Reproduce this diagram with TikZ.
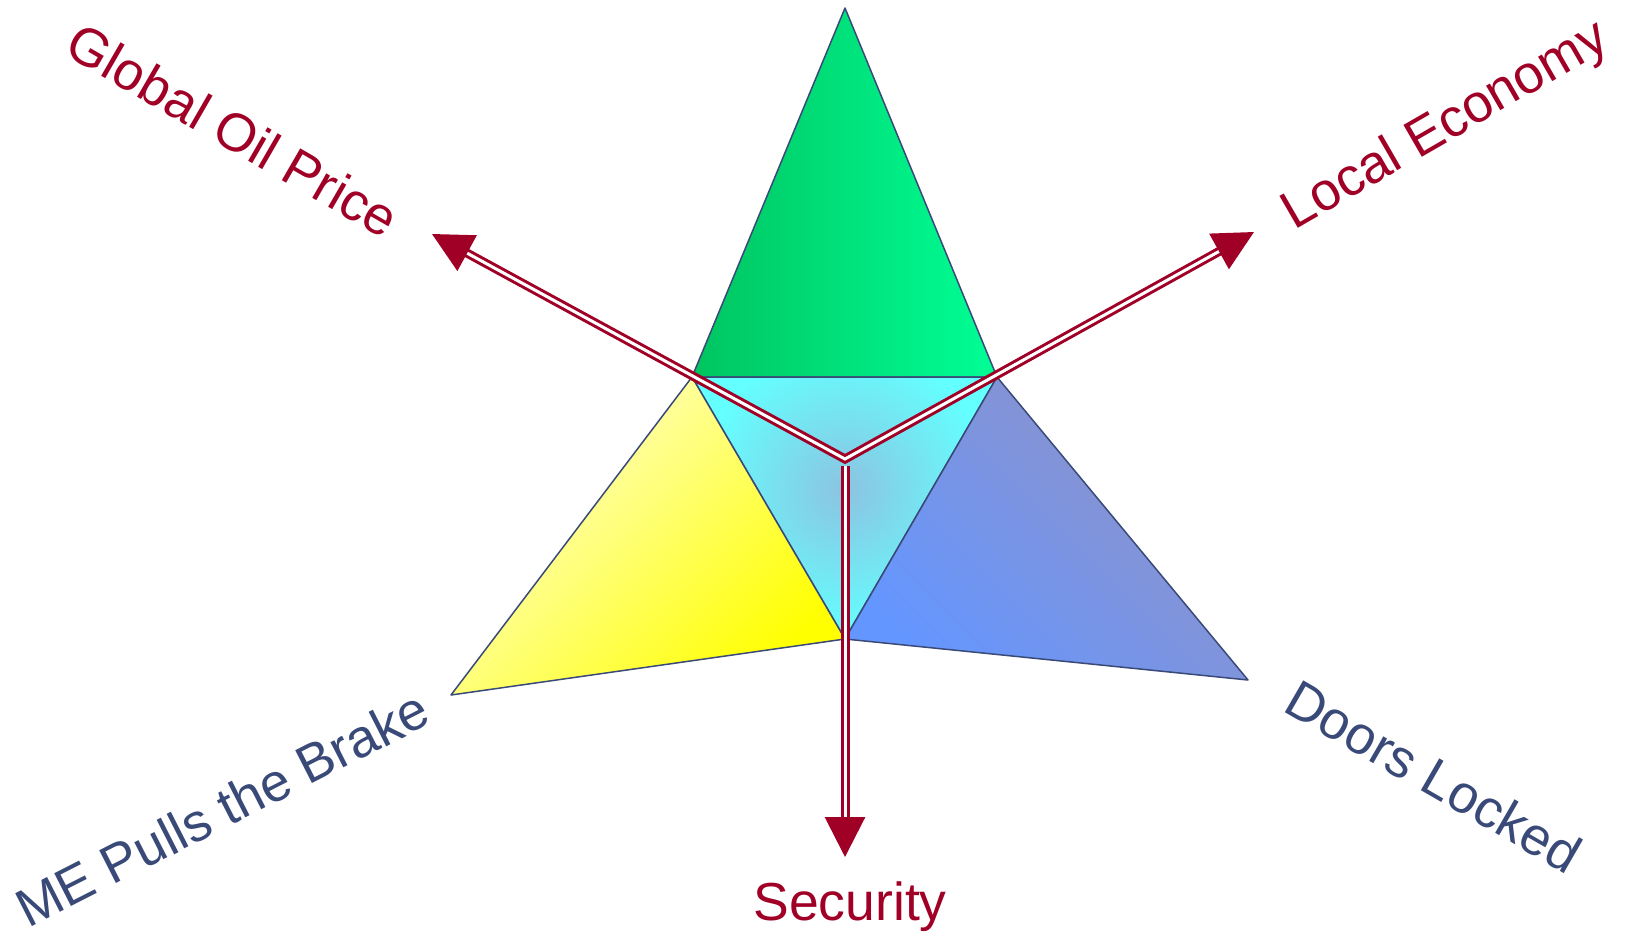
\documentclass[tikz,border=0pt]{standalone}
\usepackage{fontspec}
\setmainfont{Liberation Sans}
\usepackage{tikz}
\usetikzlibrary{arrows.meta}
\definecolor{arrowred}{RGB}{160,0,38}
\definecolor{labelblue}{RGB}{58,74,120}
\definecolor{greendark}{RGB}{0,196,96}
\definecolor{greenlight}{RGB}{0,255,150}
\definecolor{yellowpale}{RGB}{255,255,212}
\definecolor{yellowfull}{RGB}{255,255,0}
\definecolor{bluegray}{RGB}{146,146,196}
\definecolor{bluebright}{RGB}{100,150,255}
\definecolor{cyanfill}{RGB}{100,255,255}
\definecolor{cyancore}{RGB}{140,195,225}

\begin{document}
\begin{tikzpicture}[x=1pt, y=-1pt,
  facet/.style={draw=labelblue, line width=1.5pt, line join=round},
  dblarrow/.style={draw=arrowred, line width=3pt, double=white, double distance=3pt},
  redlabel/.style={text=arrowred, font=\fontsize{53.5}{62}\selectfont},
  bluelabel/.style={text=labelblue, font=\fontsize{53.5}{62}\selectfont}]
\useasboundingbox (0,0) rectangle (1627,935);

% corners of the star
\coordinate (apex) at (845,8);
\coordinate (tl) at (692,377);
\coordinate (tr) at (997,377);
\coordinate (bot) at (845,639);
\coordinate (yl) at (451,695);
\coordinate (br) at (1248,680);
\coordinate (c) at (845,459);

% arrow ends
\coordinate (oiltip) at (432,234);
\coordinate (ecotip) at (1254,232);
\coordinate (sectip) at (845,857);

% facets
\shade[facet, left color=greendark, right color=greenlight] (tl) -- (apex) -- (tr) -- cycle;
\fill[cyanfill] (tl) -- (tr) -- (bot) -- cycle;
\begin{scope}
  \clip (tl) -- (tr) -- (bot) -- cycle;
  \shade[inner color=cyancore, outer color=cyanfill] (845,490) circle (145);
\end{scope}
\draw[facet] (tl) -- (tr) -- (bot) -- cycle;
\shade[facet, top color=yellowpale, bottom color=yellowfull, shading angle=45] (tl) -- (bot) -- (yl) -- cycle;
\shade[facet, top color=bluegray, bottom color=bluebright, shading angle=-45] (tr) -- (br) -- (bot) -- cycle;

% axes
\draw[dblarrow, {Triangle[length=40pt, width=40pt]}-{Triangle[length=40pt, width=40pt]}] (oiltip) -- (c) -- (ecotip);
\draw[dblarrow, -{Triangle[length=40pt, width=40pt]}, shorten <=7pt] (c) -- (sectip);

% labels
\node[redlabel, rotate=-30] (oil) at (233,130) {Global Oil Price};
\node[redlabel, rotate=30] (economy) at (1446,127) {Local Economy};
\node[redlabel, anchor=base] (security) at (850,920) {Security};
\node[bluelabel, rotate=27, anchor=base west, inner sep=0pt] (brake) at (28,929) {ME Pulls the Brake};
\node[bluelabel, rotate=-30] (doors) at (1434,776) {Doors Locked};
\end{tikzpicture}
\end{document}
